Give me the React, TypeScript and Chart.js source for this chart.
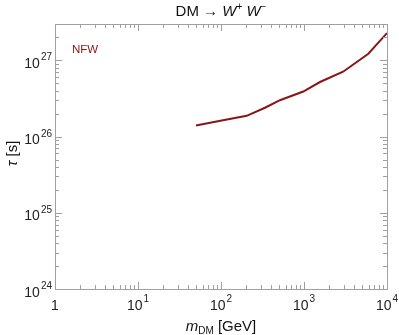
import { useEffect, useRef } from "react";
import { Chart, registerables } from "chart.js";

Chart.register(...registerables);

const masses = [50, 102, 204, 339, 513, 980, 1560, 2960, 5960, 10000];
const lifetimes = [1.4e26, 1.63e26, 1.87e26, 2.39e26, 3.0e26, 3.9e26, 5.2e26, 7.1e26, 1.22e27, 2.28e27];
const xTickExps = [0, 1, 2, 3, 4];
const yTickExps = [24, 25, 26, 27];
const seriesLabel = "NFW";
const X_MIN = 1;
const X_MAX = 1e4;
const Y_MIN = 1e24;
const Y_MAX = 3e27;

const FONT = '"Liberation Sans", Arial, sans-serif';
const LINE_COLOR = "#8b1515";
const FRAME = "#a0a0a0";

function drawPow(ctx: CanvasRenderingContext2D, exp: number, x: number, y: number, align: "center" | "right" | "left", raise: number) {
  ctx.font = `14px ${FONT}`;
  const base = exp === 0 ? "1" : "10";
  const wb = ctx.measureText(base).width;
  ctx.font = `10px ${FONT}`;
  const supTxt = exp === 0 ? "" : String(exp);
  const ws = supTxt ? ctx.measureText(supTxt).width + 1 : 0;
  const total = wb + ws;
  let x0 = x;
  if (align === "center") x0 = x - total / 2;
  else if (align === "right") x0 = x - total;
  ctx.textAlign = "left";
  ctx.textBaseline = "alphabetic";
  ctx.fillStyle = "#222";
  ctx.font = `14px ${FONT}`;
  ctx.fillText(base, x0, y);
  if (supTxt) {
    ctx.font = `10px ${FONT}`;
    ctx.fillText(supTxt, x0 + wb + 1, y - raise);
  }
}

const framePlugin = {
  id: "framePlugin",
  afterDraw(chart: any) {
    const { ctx, chartArea } = chart;
    const { left, right, top, bottom } = chartArea;
    const xs = chart.scales.x;
    const ys = chart.scales.y;
    ctx.save();
    ctx.strokeStyle = FRAME;
    ctx.lineWidth = 1;
    ctx.strokeRect(Math.round(left) + 0.5, Math.round(top) + 0.5, Math.round(right - left), Math.round(bottom - top));
    ctx.beginPath();
    for (let e = 0; e <= 4; e++) {
      for (let m = 1; m <= 9; m++) {
        const v = m * Math.pow(10, e);
        if (v > X_MAX) break;
        const px = Math.round(xs.getPixelForValue(v)) + 0.5;
        const len = m === 1 ? 7 : 4;
        ctx.moveTo(px, bottom);
        ctx.lineTo(px, bottom - len);
        ctx.moveTo(px, top);
        ctx.lineTo(px, top + len);
      }
    }
    for (let e = 24; e <= 27; e++) {
      for (let m = 1; m <= 9; m++) {
        const v = m * Math.pow(10, e);
        if (v > Y_MAX) break;
        const py = Math.round(ys.getPixelForValue(v)) + 0.5;
        const len = m === 1 ? 7 : 4;
        ctx.moveTo(left, py);
        ctx.lineTo(left + len, py);
        ctx.moveTo(right, py);
        ctx.lineTo(right - len, py);
      }
    }
    ctx.stroke();

    for (const e of xTickExps) {
      const px = xs.getPixelForValue(Math.pow(10, e));
      drawPow(ctx, e, px, bottom + 21, "center", 8);
    }
    for (const e of yTickExps) {
      const py = ys.getPixelForValue(Math.pow(10, e));
      drawPow(ctx, e, left - 3, py + 7.5, "right", 7.5);
    }

    // title
    const cx = (left + right) / 2;
    const parts: [string, string, number][] = [
      ["DM \u2192 ", `15px ${FONT}`, 0],
      ["W", `italic 15px ${FONT}`, 0],
      ["+", `10px ${FONT}`, -6],
      [" ", `15px ${FONT}`, 0],
      ["W", `italic 15px ${FONT}`, 0],
      ["\u2212", `10px ${FONT}`, -6],
    ];
    let tw = 0;
    for (const [t, f] of parts) {
      ctx.font = f;
      tw += ctx.measureText(t).width;
    }
    let tx = cx - tw / 2;
    ctx.fillStyle = "#111";
    ctx.textAlign = "left";
    ctx.textBaseline = "alphabetic";
    for (const [t, f, dy] of parts) {
      ctx.font = f;
      ctx.fillText(t, tx, 15.5 + dy);
      tx += ctx.measureText(t).width;
    }

    // x axis label
    const xparts: [string, string, number][] = [
      ["m", `italic 15px ${FONT}`, 0],
      ["DM", `10px ${FONT}`, 3],
      [" [GeV]", `15px ${FONT}`, 0],
    ];
    tw = 0;
    for (const [t, f] of xparts) {
      ctx.font = f;
      tw += ctx.measureText(t).width;
    }
    tx = cx - tw / 2;
    for (const [t, f, dy] of xparts) {
      ctx.font = f;
      ctx.fillText(t, tx, 331 + dy);
      tx += ctx.measureText(t).width;
    }

    // y axis label
    ctx.save();
    ctx.translate(16.5, (top + bottom) / 2 - 3);
    ctx.rotate(-Math.PI / 2);
    const yparts: [string, string][] = [
      ["\u03c4", `italic 15px ${FONT}`],
      [" [s]", `15px ${FONT}`],
    ];
    tw = 0;
    for (const [t, f] of yparts) {
      ctx.font = f;
      tw += ctx.measureText(t).width;
    }
    tx = -tw / 2;
    for (const [t, f] of yparts) {
      ctx.font = f;
      ctx.fillText(t, tx, 0);
      tx += ctx.measureText(t).width;
    }
    ctx.restore();

    // series label
    ctx.font = `11.5px ${FONT}`;
    ctx.fillStyle = LINE_COLOR;
    ctx.fillText(seriesLabel, left + 17, top + 29);
    ctx.restore();
  },
};

export default function App() {
  const ref = useRef<HTMLCanvasElement | null>(null);
  useEffect(() => {
    document.body.style.margin = "0";
    const canvas = ref.current!;
    const chart = new Chart(canvas, {
      type: "line",
      data: {
        datasets: [
          {
            label: seriesLabel,
            data: masses.map((m, i) => ({ x: m, y: lifetimes[i] })),
            borderColor: LINE_COLOR,
            borderWidth: 2,
            pointRadius: 0,
            fill: false,
            tension: 0,
          },
        ],
      },
      options: {
        animation: false,
        responsive: false,
        events: [],
        layout: { padding: { left: 55, right: 12, top: 24, bottom: 46 } },
        plugins: { legend: { display: false }, tooltip: { enabled: false }, title: { display: false } },
        scales: {
          x: { type: "logarithmic", min: X_MIN, max: X_MAX, display: false },
          y: { type: "logarithmic", min: Y_MIN, max: Y_MAX, display: false },
        },
      },
      plugins: [framePlugin],
    });
    return () => chart.destroy();
  }, []);
  return (
    <div style={{ width: 399, height: 335 }}>
      <canvas ref={ref} width={399} height={335} style={{ display: "block" }} />
    </div>
  );
}
